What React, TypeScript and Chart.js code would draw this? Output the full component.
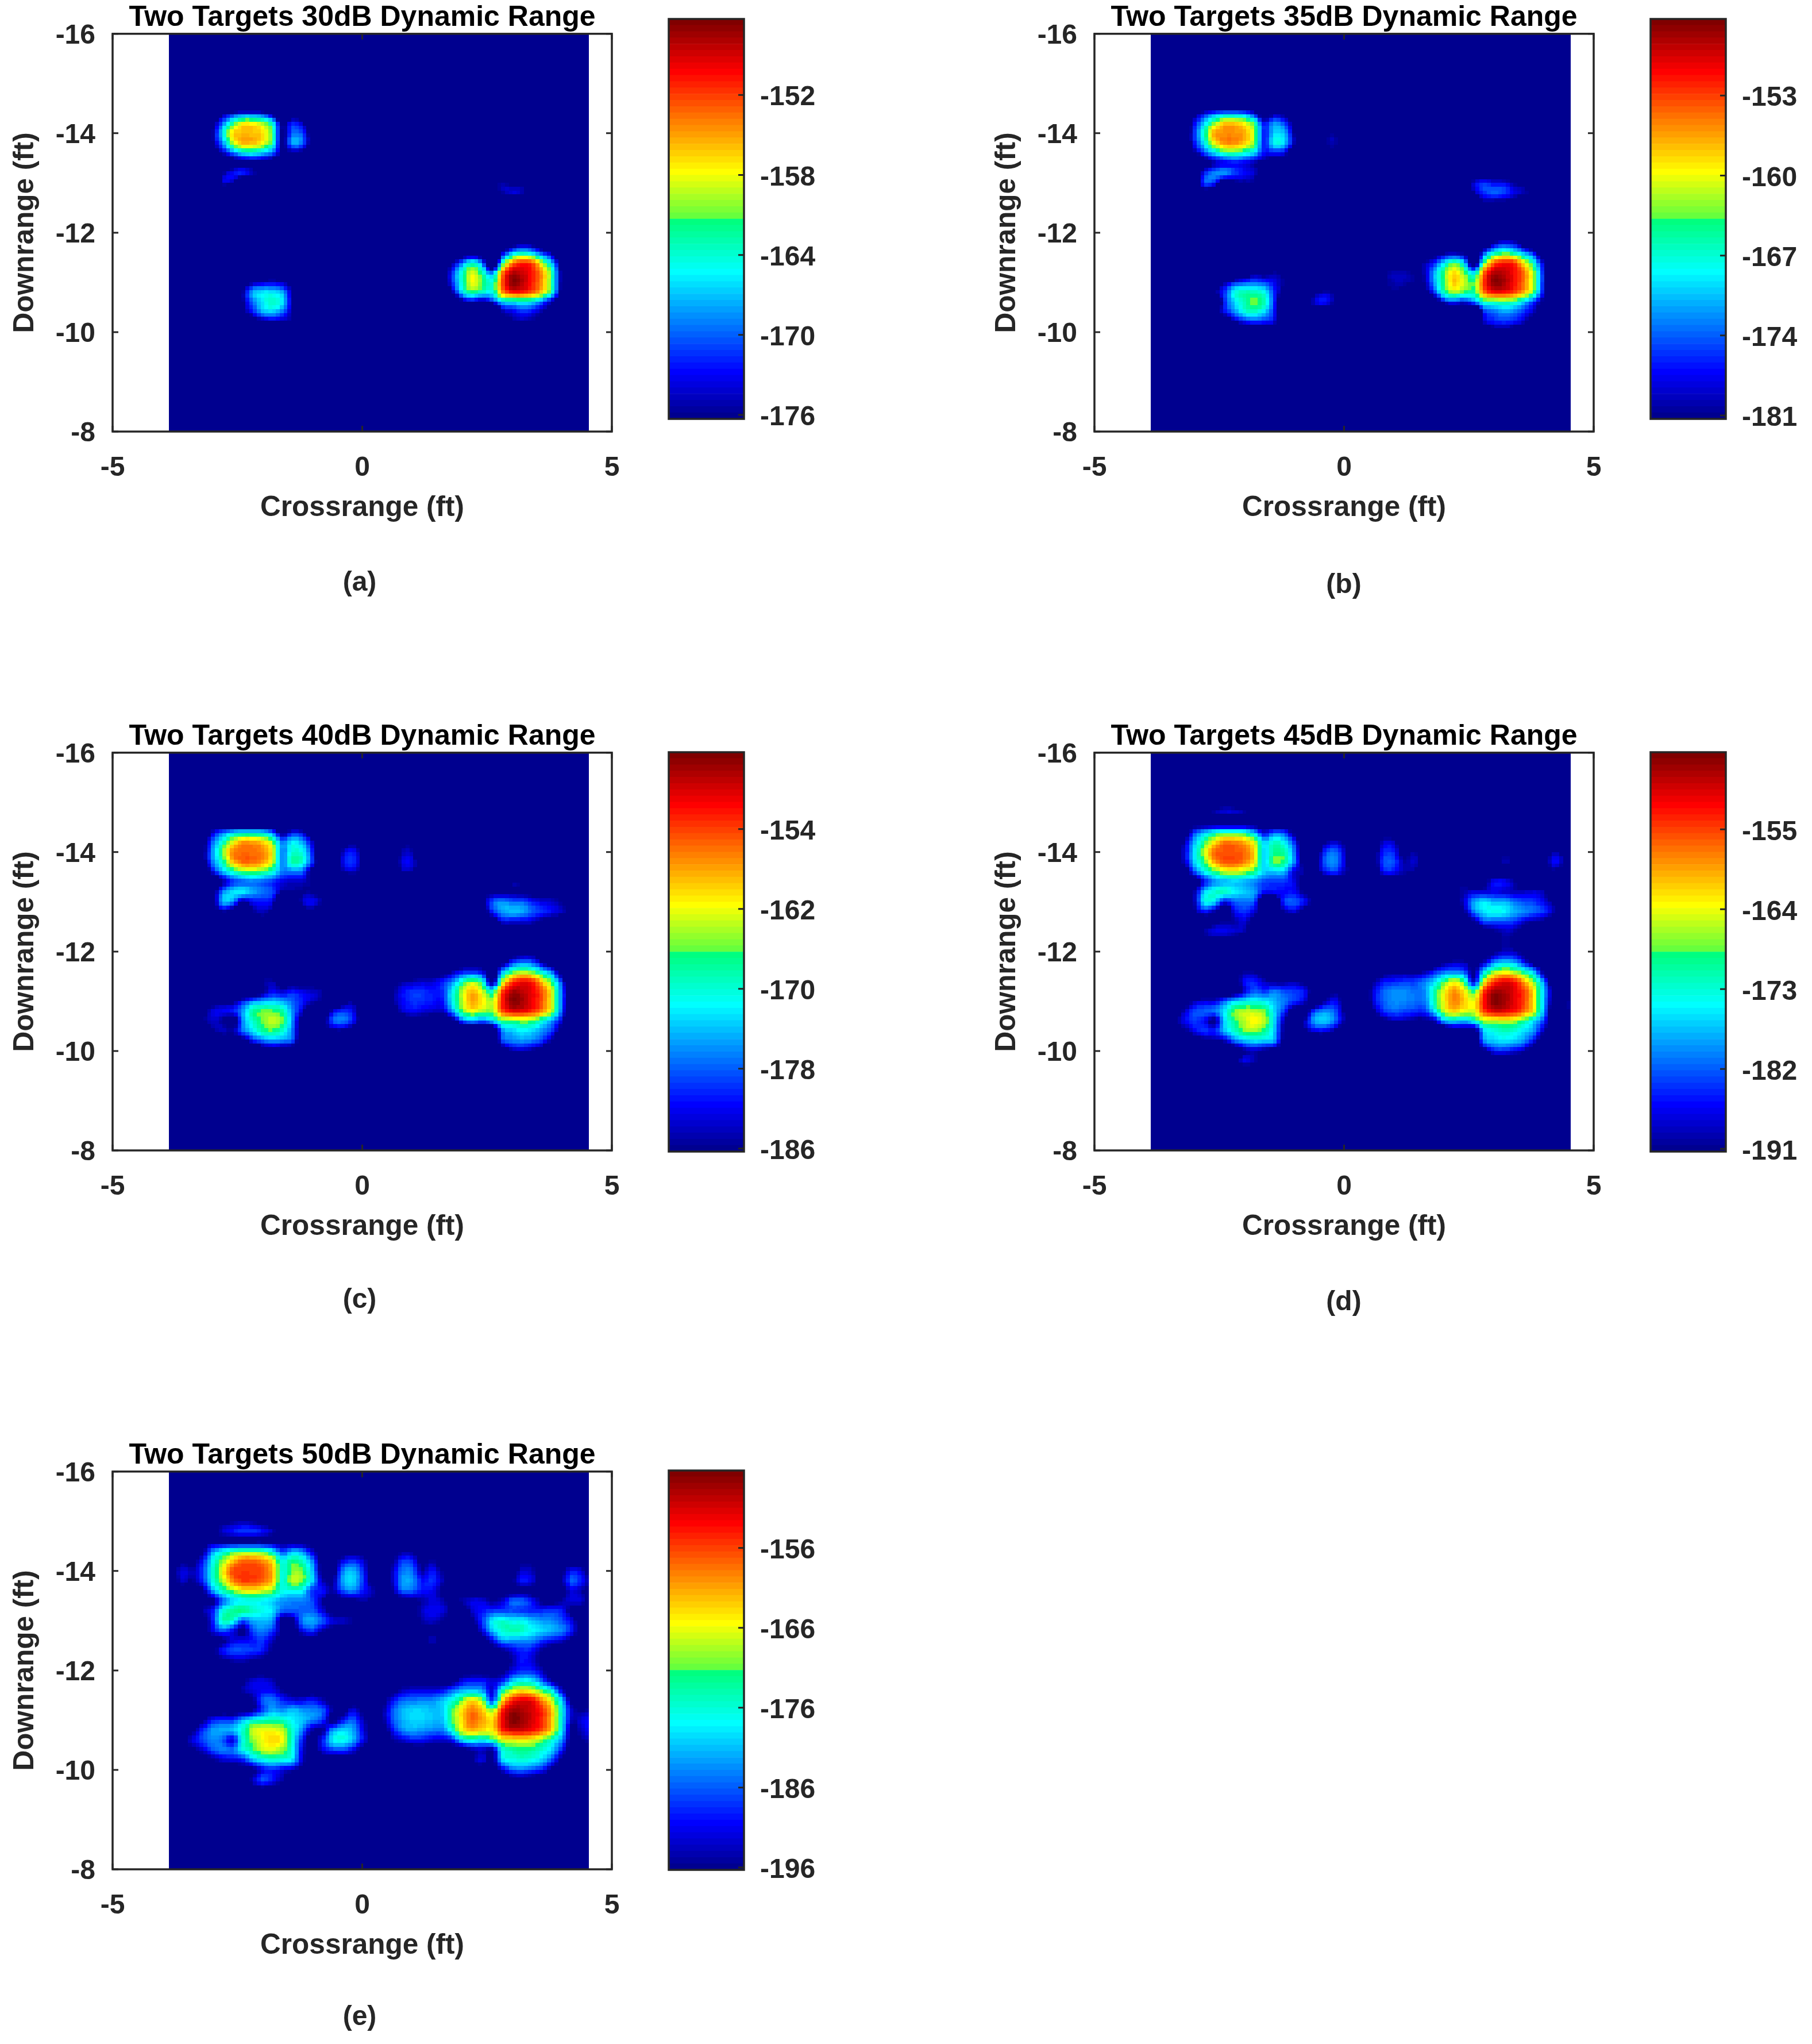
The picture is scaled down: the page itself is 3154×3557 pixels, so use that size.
import React, { useEffect, useRef } from "react";
import { Chart, registerables } from "chart.js";

Chart.register(...registerables);

// ---------- data ----------
const _ = -200; // below every colour limit
const Z10 = [_, _, _, _, _, _, _, _, _, _];

const CROSSRANGE_FT = [
  -3.8, -3.6, -3.4, -3.2, -3, -2.8, -2.6, -2.4, -2.2, -2, -1.8, -1.6, -1.4, -1.2, -1, -0.8, -0.6, -0.4, -0.2, 0, 0.2,
  0.4, 0.6, 0.8, 1, 1.2, 1.4, 1.6, 1.8, 2, 2.2, 2.4, 2.6, 2.8, 3, 3.2, 3.4, 3.6, 3.8, 4, 4.2, 4.4, 4.6,
];
const DOWNRANGE_FT = [
  -15.2, -15, -14.8, -14.6, -14.4, -14.2, -14, -13.8, -13.6, -13.4, -13.2, -13, -12.8, -12.6, -12.4, -12.2, -12,
  -11.8, -11.6, -11.4, -11.2, -11, -10.8, -10.6, -10.4, -10.2, -10, -9.8, -9.6, -9.4,
];
// one row per DOWNRANGE_FT entry, one value (dB) per CROSSRANGE_FT entry
const POWER_DB = [
  [...Z10, ...Z10, ...Z10, ...Z10, _, _, _],
  [_, _, _, _, _, -198, -196, -195, -196, _, ...Z10, ...Z10, ...Z10, _, _, _],
  [_, _, _, _, -199, -193, -190, -188, -188, -190, -194, -199, _, _, _, _, _, _, _, _, ...Z10, ...Z10, _, _, _],
  [_, _, _, -199, -197, -197, -197, -197, -197, -197, -198, -198, _, _, _, _, _, _, _, _, ...Z10, ...Z10, _, _, _],
  [_, _, _, -197, -184, -178, -174, -172, -172, -173, -178, -188, -182, -184, -193, _, _, _, -198, _, _, _, _, -196, -196, _, _, _, _, _, ...Z10, _, _, _],
  [_, -197, -198, -190, -178, -170, -163, -158, -158, -160, -165, -177, -172, -175, -184, -199, _, -192, -188, -192, _, _, -197, -188, -189, -198, -195, _, _, _, _, _, _, _, _, -197, -197, _, _, _, _, _, _],
  [-198, -192, -194, -188, -176, -166, -157, -156, -156, -157, -162, -176.5, -170, -171, -181, -198, _, -185, -181, -188, _, _, -194, -185, -185, -195, -190, -196, _, _, _, _, _, _, _, -193, -194, _, _, -197, -190, -193, -199],
  [-199, -193, -196, -189, -177, -169, -160, -156, -156, -158, -163, -176.5, -168, -170, -180, -194, -196, -183, -180, -187, -199, _, -194, -183, -183, -190, -188, -194, -198, _, -197, -197, _, _, -197, -190, -192, -199, _, -195, -186, -190, -196],
  [_, _, _, -197, -183, -175, -170, -166, -165, -167, -170, -177, -177, -178, -188, -190, -195, -187, -184, -189, -194, -199, -196, -186, -186, -190, -191, -197, _, _, _, _, _, _, _, -198, -199, _, _, -198, -192, -195, _],
  [_, _, _, -199, -197, -186, -180, -178, -177, -178, -180, -183, -184, -184, -187, -195, _, -199, -198, -195, -197, _, _, _, -197, -195, -192, -194, -198, -195, -192, -192, -196, -193, -186, -186, -190, -197, -198, -195, -192, -193, -198],
  [_, _, _, -195, -190, -177, -173, -172, -175, -177, -179, -186, -186, -186, -186, -192, -199, _, _, _, _, _, _, _, _, -193, -191, -192, -197, _, -193, -190, -188, -188, -187, -188, -189, -189, -188, -190, -198, _, _],
  [_, _, _, _, -190, -175, -176, -186, -182, -181, -183, -199, -198, -184, -182, -186, -192, -193, -195, _, _, _, _, _, _, -195, -193, -196, _, _, -197, -188, -179, -176, -178, -178, -181, -183, -184, -187, -192, _, _],
  [_, _, _, _, -192, -186, -190, -198, -187, -184, -188, -197, -199, -191, -188, -195, -198, _, _, _, _, _, _, _, _, -198, -197, _, _, _, _, -192, -181, -176, -174, -175, -178, -180, -182, -184, -190, -199, _],
  [_, _, _, _, _, -197, -192, -191, -190, -188, -194, _, _, _, _, _, _, _, _, _, _, _, _, _, _, -199, -194, -197, _, _, _, _, -192, -183, -183, -183, -184, -188, -191, -193, -198, _, _],
  [_, _, _, _, -198, -190, -187, -187, -188, -190, -197, -199, _, _, _, _, _, _, _, _, ...Z10, _, _, _, -197, -192, -189, -190, -196, _, _, _, _, _],
  [_, _, _, _, _, -197, -195, -194, -196, -198, ...Z10, ...Z10, _, _, _, _, -195, -190, -192, -198, _, _, _, _, _],
  [...Z10, ...Z10, ...Z10, _, _, _, -198, -192, -189, -189, -194, _, _, _, _, _],
  [_, _, _, _, _, _, _, -197, -193, -192, -194, -199, _, _, _, _, _, _, _, _, _, _, _, _, _, _, _, _, -199, -192, -190, -190, -193, -190, -181, -178, -179, -186, -196, _, _, _, _],
  [_, _, _, _, _, _, _, -195, -192, -191, -191, -196, -199, _, _, _, _, _, _, _, _, _, -199, -194, -192, -192, -192, -191, -186, -182, -181, -183, -192, -176, -168, -165, -167, -172, -178, -193, _, _, _],
  [_, _, _, _, _, _, _, _, -197, -186, -185, -189, -192, -192, -190, -194, -199, _, _, _, _, -199, -191, -186, -185, -184, -184, -181, -177, -170, -165, -170, -188, -165, -155, -152, -153, -160, -168, -181, -199, _, _],
  [_, _, _, _, _, _, _, _, -196, -188, -182, -184, -181, -183, -184, -186, -195, _, -192, -197, _, -196, -187, -182, -180, -180, -181, -180, -172, -164, -159, -163, -170, -155, -148.5, -149, -151, -155, -163, -178, -193, -196, -194],
  [_, _, _, -197, -190, -188, -188, -182, -177, -175, -174, -175, -178, -181, -184, -188, -198, -191, -186, -193, _, -197, -187, -182, -180, -180, -181, -181, -172, -164, -158, -161, -164, -153, -147, -148, -151, -155, -163, -178, -194, -192, -189],
  [_, _, -197, -189, -183, -182, -181, -176, -168, -166, -166, -168, -176, -184, -195, -196, -184, -180, -182, -191, -199, _, -191, -184, -182, -183, -184, -184, -176, -166, -162, -164, -165, -155, -151, -151, -153, -157, -164, -179, -197, -193, -190],
  [_, -198, -192, -187, -184, -186, -192, -177, -170, -166, -163.5, -166, -176, -190, -199, -190, -179, -177, -181, -190, -199, _, -196, -193, -190, -190, -192, -193, -190, -179, -176, -178, -174, -167, -166, -165, -166, -170, -176, -184, -199, -196, -193],
  [_, _, -197, -193, -187, -184, -185, -178, -173, -168, -167, -170, -177, -192, _, -192, -188, -187, -191, -198, ...Z10, -195, -193, -196, -177, -174, -172, -173, -176, -180, -190, _, _, _],
  [_, _, _, _, -197, -193, -192, -190, -182, -178, -176, -177, -179, -193, _, _, _, _, _, _, ...Z10, -196, -192, -198, -180, -177, -176, -177, -180, -187, -197, _, _, _],
  [_, _, _, _, _, _, _, _, -198, -191, -189, -192, -194, -198, _, _, _, _, _, _, ...Z10, _, _, _, -193, -186, -185, -187, -190, -197, _, _, _, _],
  [_, _, _, _, _, _, _, _, -194, -187, -190, -195, _, _, _, _, _, _, _, _, ...Z10, _, _, _, _, -199, -198, -199, _, _, _, _, _, _],
  [_, _, _, _, _, _, _, _, -199, -198, -199, _, _, _, _, _, _, _, _, _, ...Z10, ...Z10, _, _, _],
  [...Z10, ...Z10, ...Z10, ...Z10, _, _, _],
];

const PANEL_TITLES = [
  "Two Targets 30dB Dynamic Range",
  "Two Targets 35dB Dynamic Range",
  "Two Targets 40dB Dynamic Range",
  "Two Targets 45dB Dynamic Range",
  "Two Targets 50dB Dynamic Range",
];
const PANEL_CAPTIONS = ["(a)", "(b)", "(c)", "(d)", "(e)"];
const COLOR_MIN_DB = [-176.3, -181.3, -186.3, -191.3, -196.3];
const COLOR_MAX_DB = -146.3;
const COLOR_TICKS = [
  [-176, -170, -164, -158, -152],
  [-181, -174, -167, -160, -153],
  [-186, -178, -170, -162, -154],
  [-191, -182, -173, -164, -155],
  [-196, -186, -176, -166, -156],
];
const X_AXIS_TICKS = [-5, 0, 5];
const Y_AXIS_TICKS = [-16, -14, -12, -10, -8];
const IMAGE_X_EXTENT_FT = [-3.87, 4.54];

// ---------- page layout ----------
const PANEL_ORIGINS = [
  [0, 0],
  [1708.5, 0],
  [0, 1251],
  [1708.5, 1251],
  [0, 2501.5],
];
const BAR_AREA_TOP = [33, 33, 58, 58, 57];
const BAR_AREA_BOTTOM = [729, 729, 753, 753, 752];
const CAPTION_X = [626, 630, 626, 630, 626];
const CAPTION_Y = [1015, 1019, 1012, 1016, 1009];
const MAIN_W = 1130;
const MAIN_H = 1050;
const BAR_W = 400;
const BAR_H = 800;
const FONT = "'Liberation Sans', Arial, sans-serif";
const INK = "#262626";

// ---------- colour ----------
const LEVELS = 64;
const clamp01 = (t: number) => Math.max(0, Math.min(1, t));
function jet(i: number) {
  const f = (i + 1) / LEVELS;
  // the source's map has a step in its green at about 0.515
  const step = f >= 0.515 && f < 0.625;
  const r = step ? 0.4 + ((f - 0.515) / 0.11) * 0.6 : f < 0.515 ? 0 : clamp01(Math.min(4 * f - 1.5, -4 * f + 4.5));
  const g = clamp01(Math.min(4 * f - 0.5, -4 * f + 3.5));
  const b = step ? 0.24 * (1 - (f - 0.515) / 0.11) : clamp01(Math.min(4 * f + 0.5, -4 * f + 2.5));
  return `rgb(${Math.round(r * 255)},${Math.round(g * 255)},${Math.round(b * 255)})`;
}
const JET = Array.from({ length: LEVELS }, (_v, i) => jet(i));

// smooth image shading of the grid, the way the source's image resampling does
function catmull(a: number, b: number, c: number, d: number, t: number) {
  return 0.5 * (2 * b + (c - a) * t + (2 * a - 5 * b + 4 * c - d) * t * t + (3 * b - a - 3 * c + d) * t * t * t);
}
function shade(x: number, y: number) {
  const nx = CROSSRANGE_FT.length;
  const ny = DOWNRANGE_FT.length;
  const fx = Math.max(0, Math.min(nx - 1.001, (x - CROSSRANGE_FT[0]) / (CROSSRANGE_FT[1] - CROSSRANGE_FT[0])));
  const fy = Math.max(0, Math.min(ny - 1.001, (y - DOWNRANGE_FT[0]) / (DOWNRANGE_FT[1] - DOWNRANGE_FT[0])));
  const ix = Math.floor(fx);
  const iy = Math.floor(fy);
  const rowAt = (r: number) => {
    const row = POWER_DB[Math.max(0, Math.min(ny - 1, r))];
    const at = (c: number) => row[Math.max(0, Math.min(nx - 1, c))];
    return catmull(at(ix - 1), at(ix), at(ix + 1), at(ix + 2), fx - ix);
  };
  return catmull(rowAt(iy - 1), rowAt(iy), rowAt(iy + 1), rowAt(iy + 2), fy - iy);
}

const CELL_COLS = 110;
const CELL_ROWS = 104;

function heatPlugin(panel: number) {
  const lo = COLOR_MIN_DB[panel];
  return {
    id: "heat",
    beforeDatasetsDraw(chart: any) {
      const { ctx, scales } = chart;
      const xs = scales.x;
      const ys = scales.y;
      const [x0, x1] = IMAGE_X_EXTENT_FT;
      const dx = (x1 - x0) / CELL_COLS;
      const dy = (ys.max - ys.min) / CELL_ROWS;
      ctx.save();
      for (let c = 0; c < CELL_COLS; c++) {
        const left = Math.round(xs.getPixelForValue(x0 + c * dx));
        const right = Math.round(xs.getPixelForValue(x0 + (c + 1) * dx));
        for (let r = 0; r < CELL_ROWS; r++) {
          const top = Math.round(ys.getPixelForValue(ys.min + r * dy));
          const bottom = Math.round(ys.getPixelForValue(ys.min + (r + 1) * dy));
          const v = shade(x0 + (c + 0.5) * dx, ys.min + (r + 0.5) * dy);
          const idx = Math.max(0, Math.min(LEVELS - 1, Math.floor(((v - lo) / (COLOR_MAX_DB - lo)) * LEVELS)));
          ctx.fillStyle = JET[idx];
          ctx.fillRect(left, top, right - left, bottom - top);
        }
      }
      ctx.restore();
    },
  };
}

function framePlugin(bothSides: boolean, caption?: string, capX = 0, capY = 0) {
  return {
    id: "frame",
    afterDraw(chart: any) {
      const { ctx, chartArea: a, scales } = chart;
      ctx.save();
      ctx.strokeStyle = INK;
      ctx.lineWidth = 3.5;
      ctx.strokeRect(a.left, a.top, a.right - a.left, a.bottom - a.top);
      ctx.lineWidth = 3;
      const len = 10;
      ctx.beginPath();
      const y = scales.y;
      y.ticks.forEach((_t: any, i: number) => {
        const p = y.getPixelForTick(i);
        ctx.moveTo(a.right, p);
        ctx.lineTo(a.right - len, p);
        if (bothSides) {
          ctx.moveTo(a.left, p);
          ctx.lineTo(a.left + len, p);
        }
      });
      if (bothSides) {
        const x = scales.x;
        x.ticks.forEach((_t: any, i: number) => {
          const p = x.getPixelForTick(i);
          ctx.moveTo(p, a.bottom);
          ctx.lineTo(p, a.bottom - len);
          ctx.moveTo(p, a.top);
          ctx.lineTo(p, a.top + len);
        });
      }
      ctx.stroke();
      if (caption) {
        ctx.fillStyle = INK;
        ctx.font = `bold 48px ${FONT}`;
        ctx.textAlign = "center";
        ctx.textBaseline = "middle";
        ctx.fillText(caption, capX, capY);
      }
      ctx.restore();
    },
  };
}

function Panel({ index }: { index: number }) {
  const mainRef = useRef<HTMLCanvasElement>(null);
  const barRef = useRef<HTMLCanvasElement>(null);

  useEffect(() => {
    const points: { x: number; y: number }[] = [];
    POWER_DB.forEach((row, r) =>
      row.forEach((v, c) => {
        if (v >= COLOR_MIN_DB[index]) points.push({ x: CROSSRANGE_FT[c], y: DOWNRANGE_FT[r] });
      }),
    );
    const main = new Chart(mainRef.current!, {
      type: "scatter",
      data: { datasets: [{ label: "Power (dB)", data: points, pointRadius: 0, showLine: false }] },
      plugins: [heatPlugin(index), framePlugin(true, PANEL_CAPTIONS[index], CAPTION_X[index], CAPTION_Y[index])],
      options: {
        animation: false,
        responsive: false,
        devicePixelRatio: 1,
        layout: { autoPadding: false, padding: { left: 0, top: 0, right: MAIN_W - 1065, bottom: 0 } },
        plugins: {
          legend: { display: false },
          tooltip: { enabled: false },
          title: {
            display: true,
            fullSize: false,
            text: PANEL_TITLES[index],
            color: "#000",
            font: { family: FONT, size: 50, weight: "bold", lineHeight: 1 },
            padding: { top: 6, bottom: 2.5 },
          },
        },
        scales: {
          x: {
            type: "linear",
            min: -5,
            max: 5,
            afterBuildTicks: (s: any) => {
              s.ticks = X_AXIS_TICKS.map((value) => ({ value }));
            },
            afterFit: (s: any) => {
              s.height = MAIN_H - 751;
            },
            grid: { display: false, drawTicks: false },
            border: { display: false },
            ticks: {
              autoSkip: false,
              maxRotation: 0,
              padding: 35,
              color: INK,
              font: { family: FONT, size: 48, weight: "bold" },
              callback: (v: any) => String(v),
            },
            title: {
              display: true,
              text: "Crossrange (ft)",
              color: INK,
              font: { family: FONT, size: 49.5, weight: "bold" },
              padding: { top: 0, bottom: 136 },
            },
          },
          y: {
            type: "linear",
            reverse: true,
            min: -16,
            max: -8,
            afterBuildTicks: (s: any) => {
              s.ticks = Y_AXIS_TICKS.map((value) => ({ value }));
            },
            afterFit: (s: any) => {
              s.width = 196;
            },
            grid: { display: false, drawTicks: false },
            border: { display: false },
            ticks: {
              autoSkip: false,
              padding: 30,
              labelOffset: 3.5,
              color: INK,
              font: { family: FONT, size: 48, weight: "bold" },
              callback: (v: any) => String(v),
            },
            title: {
              display: true,
              text: "Downrange (ft)",
              color: INK,
              font: { family: FONT, size: 49.5, weight: "bold" },
              padding: { top: 15, bottom: 0 },
            },
          },
        },
      },
    } as any);

    const lo = COLOR_MIN_DB[index];
    const step = (COLOR_MAX_DB - lo) / LEVELS;
    const bar = new Chart(barRef.current!, {
      type: "bar",
      data: {
        labels: ["dB"],
        datasets: JET.map((color, i) => ({
          label: String(i),
          data: [[lo + i * step, lo + (i + 1) * step]],
          backgroundColor: color,
          borderWidth: 0,
          grouped: false,
          categoryPercentage: 1,
          barPercentage: 1,
        })),
      },
      plugins: [framePlugin(false)],
      options: {
        animation: false,
        responsive: false,
        devicePixelRatio: 1,
        layout: {
          autoPadding: false,
          padding: { left: 34, top: BAR_AREA_TOP[index], right: 0, bottom: BAR_H - BAR_AREA_BOTTOM[index] },
        },
        plugins: { legend: { display: false }, tooltip: { enabled: false }, title: { display: false } },
        scales: {
          x: { display: false, offset: true },
          y: {
            position: "right",
            min: lo,
            max: COLOR_MAX_DB,
            afterBuildTicks: (s: any) => {
              s.ticks = COLOR_TICKS[index].map((value) => ({ value }));
            },
            afterFit: (s: any) => {
              s.width = BAR_W - 165;
              s.paddingTop = 0;
              s.paddingBottom = 0;
            },
            grid: { display: false, drawTicks: false },
            border: { display: false },
            ticks: {
              autoSkip: false,
              padding: 28,
              labelOffset: 5,
              color: INK,
              font: { family: FONT, size: 48, weight: "bold" },
              callback: (v: any) => String(v),
            },
          },
        },
      },
    } as any);

    return () => {
      main.destroy();
      bar.destroy();
    };
  }, [index]);

  const [ox, oy] = PANEL_ORIGINS[index];
  return (
    <>
      <canvas
        ref={mainRef}
        width={MAIN_W}
        height={MAIN_H}
        style={{ position: "absolute", left: ox, top: oy, width: MAIN_W, height: MAIN_H }}
      />
      <canvas
        ref={barRef}
        width={BAR_W}
        height={BAR_H}
        style={{ position: "absolute", left: ox + MAIN_W, top: oy, width: BAR_W, height: BAR_H }}
      />
    </>
  );
}

export default function App() {
  return (
    <div style={{ position: "absolute", left: 0, top: 0, width: 3154, height: 3557, overflow: "hidden", background: "#fff" }}>
      {PANEL_TITLES.map((_t, i) => (
        <Panel key={i} index={i} />
      ))}
    </div>
  );
}
